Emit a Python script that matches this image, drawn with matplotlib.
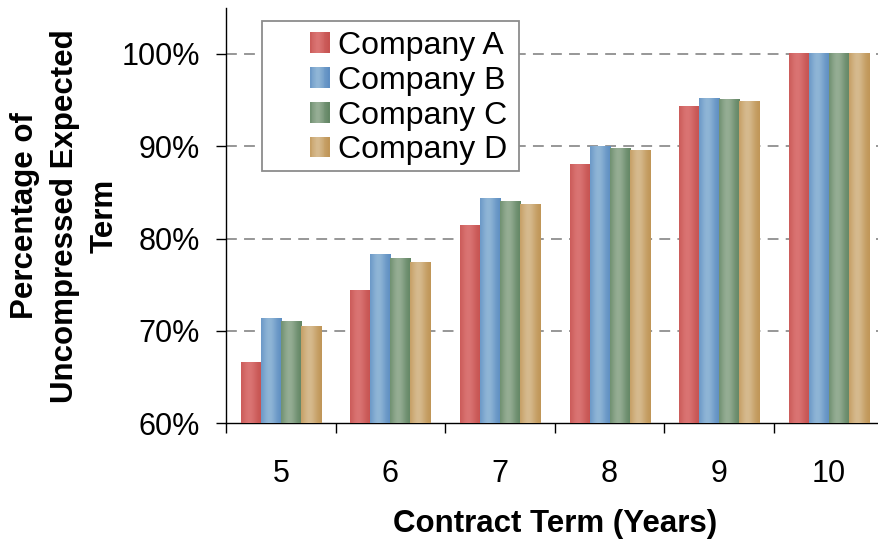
import numpy as np
import matplotlib
matplotlib.use("Agg")
import matplotlib.pyplot as plt
from matplotlib.colors import to_rgb
from matplotlib.patches import Rectangle
from matplotlib.legend_handler import HandlerBase

plt.rcParams['font.family'] = ['Liberation Sans', 'DejaVu Sans']

# Data
terms = ["5", "6", "7", "8", "9", "10"]
companies = ["Company A", "Company B", "Company C", "Company D"]
company_a = [66.5, 74.3, 81.4, 88.0, 94.2, 100.0]
company_b = [71.3, 78.2, 84.3, 89.9, 95.1, 100.0]
company_c = [71.0, 77.8, 84.0, 89.7, 95.0, 100.0]
company_d = [70.4, 77.4, 83.6, 89.5, 94.8, 100.0]
series = [company_a, company_b, company_c, company_d]
y_ticks = [60, 70, 80, 90, 100]
y_tick_labels = ["60%", "70%", "80%", "90%", "100%"]

# (edge colour, highlight colour) for the cylinder-like shading
shades = [("#C4504E", "#DA7473"),
          ("#5A8BC0", "#8FB5D6"),
          ("#5F8361", "#95AD94"),
          ("#BE9353", "#D6BA8E")]


def shade_row(edge, light, n=64):
    t = np.linspace(0, 1, n)
    f = np.exp(-((t - 0.4) / 0.38) ** 2)
    e = np.array(to_rgb(edge))
    l = np.array(to_rgb(light))
    return e[None, :] + (l - e)[None, :] * f[:, None]


W, H = 879, 542
fig = plt.figure(figsize=(W / 100, H / 100), dpi=100)
ax = fig.add_axes([226 / W, (H - 423.3) / H, 657.6 / W, (423.3 - 7.5) / H])

x = np.arange(len(terms))
bw = 0.1825
offsets = (np.arange(len(series)) - 1.5) * bw

ax.set_axisbelow(True)
for vals, off, (edge, light) in zip(series, offsets, shades):
    img = shade_row(edge, light)[None, :, :]
    bars = ax.bar(x + off, vals, width=bw, color=edge, linewidth=0, zorder=2)
    for b in bars:
        x0 = b.get_x()
        ax.imshow(img, extent=(x0, x0 + b.get_width(), 0, b.get_height()),
                  aspect='auto', interpolation='bilinear', zorder=3)

ax.set_xlim(-0.5, len(terms) - 0.5)
ax.set_ylim(60, 105)

# Gridlines
for yv in y_ticks[1:]:
    ax.axhline(yv, color="#8f8f8f", lw=1.3, ls=(0, (6, 4)), zorder=1)

ax.set_yticks(y_ticks)
ax.set_yticklabels(y_tick_labels)
ax.set_xticks(x)
ax.set_xticklabels(terms)
ax.set_xticks(np.arange(len(terms) + 1) - 0.5, minor=True)
ax.tick_params(axis='x', which='major', length=0, pad=26, labelsize=22)
ax.tick_params(axis='x', which='minor', length=7.2, width=1, direction='out', color='black')
ax.tick_params(axis='y', length=7.2, width=1, direction='out', pad=11.5, labelsize=22)

for s in ['top', 'right']:
    ax.spines[s].set_visible(False)
for s in ['left', 'bottom']:
    ax.spines[s].set_color('black')
    ax.spines[s].set_linewidth(1.0)

# Axis titles
fig.text(555 / W, 1 - 524 / H, "Contract Term (Years)", fontsize=22.5,
         fontweight='bold', ha='center', va='center')
fig.text(65 / W, 1 - 216 / H, "Percentage of\nUncompressed Expected\nTerm",
         fontsize=22.5, fontweight='bold', rotation=90, ha='center', va='center',
         multialignment='center', linespacing=1.42)


class ShadedHandler(HandlerBase):
    def __init__(self, edge, light):
        super().__init__()
        self.edge, self.light = edge, light

    def create_artists(self, legend, orig_handle, xdescent, ydescent,
                       width, height, fontsize, trans):
        n = 24
        cols = shade_row(self.edge, self.light, n)
        arts = []
        for i in range(n):
            r = Rectangle((-xdescent + width * i / n, -ydescent), width / n + 0.3, height,
                          facecolor=cols[i], edgecolor='none', transform=trans)
            arts.append(r)
        return arts


handles = [Rectangle((0, 0), 1, 1) for _ in companies]
handler_map = {h: ShadedHandler(e, l) for h, (e, l) in zip(handles, shades)}
leg = fig.legend(handles, companies, handler_map=handler_map,
                 loc='upper left', bbox_to_anchor=(310 / W, 1 - 31 / H),
                 frameon=False, fontsize=23, borderpad=0, borderaxespad=0,
                 handlelength=0.6, handleheight=0.62, handletextpad=0.27,
                 labelspacing=0.15)

# Legend frame
fig.patches.append(Rectangle((261.7 / W, 1 - 170.5 / H), (519 - 261.7) / W, (170.5 - 21) / H,
                             transform=fig.transFigure, facecolor='white',
                             edgecolor='#8c8c8c', lw=1.3, zorder=4))
leg.set_zorder(5)

fig.savefig("out.png", dpi=100)
